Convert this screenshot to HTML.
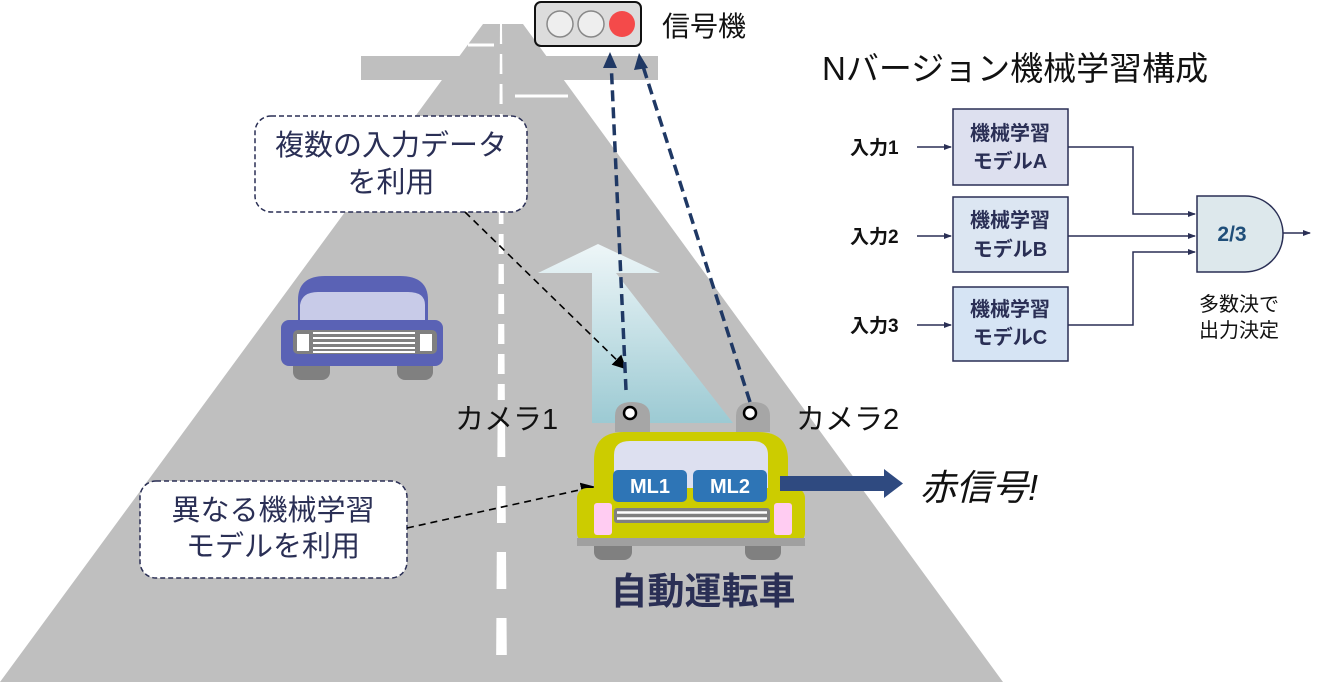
<!DOCTYPE html>
<html><head><meta charset="utf-8"><style>
body{margin:0;background:#fff}
svg{display:block}
text{font-family:"Liberation Sans","Noto Sans CJK JP",sans-serif}
</style></head><body>
<svg width="1319" height="682" viewBox="0 0 1319 682" xmlns="http://www.w3.org/2000/svg">
<defs>
<linearGradient id="bg" x1="0" y1="0" x2="0" y2="1">
<stop offset="0" stop-color="#eef6f8"/><stop offset="1" stop-color="#9ccad3"/></linearGradient>
<marker id="ab" markerWidth="14" markerHeight="14" refX="12" refY="7" orient="auto" markerUnits="userSpaceOnUse"><path d="M0,0 L14,7 L0,14 Z" fill="#000"/></marker>
<marker id="as" markerWidth="8" markerHeight="8" refX="7" refY="4" orient="auto" markerUnits="userSpaceOnUse"><path d="M0,1 L8,4 L0,7 Z" fill="#2a2f55"/></marker>
<mask id="m1">
<line x1="501" y1="24" x2="501" y2="400" stroke="#fff" stroke-width="20" stroke-dasharray="20 10"/>
<line x1="501" y1="420" x2="501" y2="682" stroke="#fff" stroke-width="20" stroke-dasharray="37 29"/>
</mask>
</defs>
<polygon points="483,24 523,24 1003,682 0,682" fill="#bfbfbf"/>
<rect x="361" y="56" width="297" height="24" fill="#bfbfbf"/>
<line x1="468" y1="45" x2="494" y2="45" stroke="#fff" stroke-width="3"/>
<line x1="515" y1="96" x2="568" y2="96" stroke="#fff" stroke-width="3"/>
<polygon points="500,24 502,24 507,682 496,682" fill="#fff" mask="url(#m1)"/>
<rect x="535" y="2" width="106" height="44" rx="6" fill="#dcdcdc" stroke="#111" stroke-width="2"/>
<circle cx="560" cy="24" r="13" fill="#eee" stroke="#888" stroke-width="1.5"/>
<circle cx="591" cy="24" r="13" fill="#eee" stroke="#888" stroke-width="1.5"/>
<circle cx="622" cy="24" r="13" fill="#f44a4a"/>
<text x="662" y="36" font-size="28" fill="#111">信号機</text>
<polygon points="538,273 598,244 660,273 616,273 733,423 592,423 592,273" fill="url(#bg)"/>
<rect x="255" y="116" width="272" height="96" rx="16" fill="#fff" stroke="#2a2f55" stroke-width="1.5" stroke-dasharray="5 3"/>
<text x="391" y="155" font-size="29" fill="#2a2f55" text-anchor="middle">複数の入力データ</text>
<text x="391" y="192" font-size="29" fill="#2a2f55" text-anchor="middle">を利用</text>
<line x1="465" y1="212" x2="625" y2="368" stroke="#000" stroke-width="1.6" stroke-dasharray="7 5" marker-end="url(#ab)"/>
<rect x="140" y="481" width="267" height="97" rx="16" fill="#fff" stroke="#2a2f55" stroke-width="1.5" stroke-dasharray="5 3"/>
<text x="273" y="520" font-size="29" fill="#2a2f55" text-anchor="middle">異なる機械学習</text>
<text x="273" y="556" font-size="29" fill="#2a2f55" text-anchor="middle">モデルを利用</text>
<line x1="407" y1="528" x2="593" y2="487" stroke="#000" stroke-width="1.6" stroke-dasharray="7 5" marker-end="url(#ab)"/>
<rect x="293" y="355" width="37" height="25" rx="8" fill="#808080"/>
<rect x="397" y="355" width="36" height="25" rx="8" fill="#808080"/>
<path d="M298,325 V300 Q298,276 325,276 H400 Q428,276 428,300 V325 Z" fill="#5a62b5"/>
<path d="M300,322 V305 Q302,292 318,292 H408 Q425,292 425,305 V322 Z" fill="#c8cbe8"/>
<rect x="281" y="320" width="162" height="46" rx="8" fill="#5a62b5"/>
<rect x="293" y="330" width="144" height="24" rx="5" fill="#808080"/>
<rect x="297" y="334" width="12" height="17" fill="#fff"/>
<rect x="420" y="334" width="12" height="17" fill="#fff"/>
<g stroke="#fff" stroke-width="2"><line x1="313" y1="333" x2="415" y2="333"/><line x1="313" y1="338" x2="415" y2="338"/><line x1="313" y1="343" x2="415" y2="343"/><line x1="313" y1="348" x2="415" y2="348"/><line x1="313" y1="352" x2="415" y2="352"/></g>
<path d="M615,432 V416 Q615,402 632,402 Q650,402 650,416 V432 Z" fill="#a6a6a6"/>
<path d="M736,432 V416 Q736,402 753,402 Q770,402 770,416 V432 Z" fill="#a6a6a6"/>
<circle cx="630" cy="413" r="6" fill="#fff" stroke="#000" stroke-width="2.5"/>
<circle cx="750" cy="413" r="6" fill="#fff" stroke="#000" stroke-width="2.5"/>
<line x1="626" y1="390" x2="611" y2="60" stroke="#1f3864" stroke-width="3.5" stroke-dasharray="11 6"/>
<line x1="750" y1="402" x2="641" y2="60" stroke="#1f3864" stroke-width="3.5" stroke-dasharray="11 6"/>
<path d="M603,68 L610,52 L617,68 Z" fill="#1f3864"/>
<path d="M634,70 L639,53 L648,68 Z" fill="#1f3864"/>
<text x="455" y="429" font-size="29" fill="#111">カメラ1</text>
<text x="796" y="429" font-size="29" fill="#111">カメラ2</text>
<rect x="594" y="538" width="38" height="22" rx="8" fill="#808080"/>
<rect x="745" y="538" width="36" height="22" rx="8" fill="#808080"/>
<path d="M594,500 V460 Q594,432 624,432 H758 Q788,432 788,460 V500 Z" fill="#cccc00"/>
<path d="M614,492 V455 Q614,441 630,441 H752 Q768,441 768,455 V492 Z" fill="#dde0f0"/>
<rect x="577" y="488" width="228" height="55" rx="10" fill="#cccc00"/>
<rect x="577" y="538" width="228" height="8" fill="#a0a0a0"/>
<rect x="594" y="503" width="18" height="32" rx="3" fill="#ffccf2"/>
<rect x="774" y="503" width="18" height="32" rx="3" fill="#ffccf2"/>
<rect x="614" y="508" width="156" height="15" rx="3" fill="#808080"/>
<line x1="617" y1="512.5" x2="767" y2="512.5" stroke="#fff" stroke-width="2.5"/>
<line x1="617" y1="518.5" x2="767" y2="518.5" stroke="#fff" stroke-width="2.5"/>
<rect x="613" y="470" width="74" height="32" rx="5" fill="#2e75b6"/>
<rect x="693" y="470" width="74" height="32" rx="5" fill="#2e75b6"/>
<text x="650" y="493" font-size="20" font-weight="bold" fill="#fff" text-anchor="middle">ML1</text>
<text x="730" y="493" font-size="20" font-weight="bold" fill="#fff" text-anchor="middle">ML2</text>
<rect x="780" y="476" width="106" height="15" fill="#2f4a80"/>
<path d="M884,469 L903,483.5 L884,498 Z" fill="#2f4a80"/>
<text x="920" y="500" font-size="36" font-style="italic" fill="#111">赤信号!</text>
<text x="703" y="604" font-size="37" font-weight="bold" fill="#2a2f55" text-anchor="middle">自動運転車</text>
<text x="822" y="80" font-size="33" fill="#111">Nバージョン機械学習構成</text>
<g stroke="#2a2f55" stroke-width="1.5" fill="none">
<line x1="917" y1="147" x2="951" y2="147" marker-end="url(#as)"/>
<line x1="917" y1="236" x2="951" y2="236" marker-end="url(#as)"/>
<line x1="917" y1="325" x2="951" y2="325" marker-end="url(#as)"/>
<polyline points="1068,147 1133,147 1133,214 1195,214" marker-end="url(#as)"/>
<line x1="1068" y1="236" x2="1195" y2="236" marker-end="url(#as)"/>
<polyline points="1068,325 1133,325 1133,252 1195,252" marker-end="url(#as)"/>
<line x1="1283" y1="233" x2="1310" y2="233" marker-end="url(#as)"/>
</g>
<rect x="953" y="109" width="115" height="76" fill="#dde0ef" stroke="#2a2f55" stroke-width="1.5"/>
<rect x="953" y="197" width="115" height="75" fill="#dce6f2" stroke="#2a2f55" stroke-width="1.5"/>
<rect x="953" y="287" width="115" height="74" fill="#d6e4f4" stroke="#2a2f55" stroke-width="1.5"/>
<g font-size="20" font-weight="bold" fill="#2a2f55" text-anchor="middle">
<text x="1010" y="140">機械学習</text><text x="1010" y="168">モデルA</text>
<text x="1010" y="227">機械学習</text><text x="1010" y="256">モデルB</text>
<text x="1010" y="316">機械学習</text><text x="1010" y="344">モデルC</text>
</g>
<g font-size="19" font-weight="bold" fill="#111">
<text x="850" y="154">入力1</text><text x="850" y="243">入力2</text><text x="850" y="332">入力3</text>
</g>
<path d="M1197,196 H1245 A38,38 0 0 1 1245,272 H1197 Z" fill="#dde8ec" stroke="#2a2f55" stroke-width="1.5"/>
<text x="1232" y="241" font-size="21" font-weight="bold" fill="#1f4e79" text-anchor="middle">2/3</text>
<text x="1199" y="311" font-size="20" fill="#111">多数決で</text>
<text x="1199" y="337" font-size="20" fill="#111">出力決定</text>
</svg>
</body></html>
